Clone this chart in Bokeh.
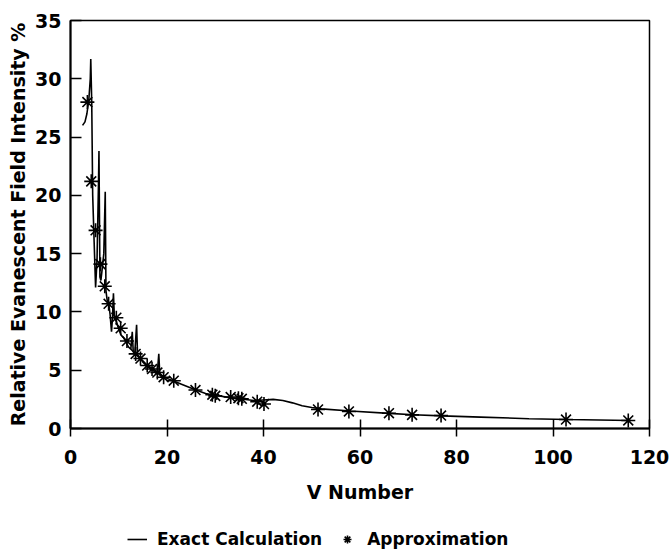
from bokeh.plotting import figure
from bokeh.layouts import column
from bokeh.models import Legend, LegendItem, FixedTicker, Range1d
from bokeh.embed import file_html
from bokeh.resources import INLINE

# Exact calculation curve
exact_x = [2.5, 3.0, 3.4, 3.8, 4.1, 4.2, 4.4, 4.6, 4.9, 5.2,
           5.5, 5.8, 5.9, 6.1, 6.3, 6.6, 6.9, 7.2, 7.35, 7.6,
           7.9, 8.2, 8.5, 8.7, 8.9, 9.1, 9.5, 10.0, 10.5, 11.0,
           11.5, 12.0, 12.5, 12.8, 13.0, 13.3, 13.7, 13.9, 14.5, 15.0,
           15.5, 16.0, 16.5, 17.0, 17.5, 18.0, 18.3, 18.5, 19.0, 20.0,
           21.5, 23.0, 26.0, 28.0, 30.0, 33.0, 35.0, 38.0, 40.0, 42.0,
           44.0, 46.0, 48.0, 50.0, 52.0, 58.0, 66.0, 71.0, 77.0, 85.0,
           95.0, 103.0, 116.0]
exact_y = [26.0, 26.3, 27.0, 28.2, 30.0, 31.7, 28.0, 20.0, 16.0, 12.1,
           14.5, 21.0, 23.8, 13.0, 12.7, 13.8, 15.0, 20.3, 11.8, 11.0,
           10.8, 9.8, 8.3, 9.5, 11.6, 9.5, 9.2, 8.5, 8.0, 7.8,
           7.4, 7.0, 6.8, 8.3, 6.6, 6.3, 8.9, 6.3, 6.0, 5.7,
           5.5, 5.3, 5.2, 5.0, 4.9, 4.8, 6.4, 4.7, 4.5, 4.3,
           4.05, 3.8, 3.3, 3.0, 2.85, 2.65, 2.55, 2.4, 2.45, 2.5,
           2.4, 2.2, 1.95, 1.8, 1.68, 1.5, 1.3, 1.18, 1.08, 0.98,
           0.84, 0.77, 0.69]

# Approximation points
approx_x = [3.5, 4.3, 5.2, 6.2, 7.1, 7.9, 9.5, 10.4, 11.7, 13.5,
            14.5, 15.9, 16.9, 18.0, 19.3, 21.4, 25.9, 29.4, 30.0, 33.2,
            34.8, 35.5, 38.7, 40.1, 51.3, 57.7, 66.0, 70.8, 76.8, 102.7,
            115.6]
approx_y = [28.0, 21.2, 17.0, 14.1, 12.2, 10.7, 9.5, 8.6, 7.5, 6.4,
            6.0, 5.4, 5.1, 4.8, 4.4, 4.1, 3.3, 2.9, 2.8, 2.7,
            2.6, 2.55, 2.3, 2.1, 1.63, 1.46, 1.31, 1.17, 1.11, 0.77,
            0.69]

x_ticks = [0, 20, 40, 60, 80, 100, 120]
y_ticks = [0, 5, 10, 15, 20, 25, 30, 35]
series_names = ["Exact Calculation", "Approximation"]

FONT = "DejaVu Sans"

p = figure(width=672, height=524,
           x_range=Range1d(0, 120), y_range=Range1d(0, 35),
           output_backend="svg", toolbar_location=None,
           min_border_left=70, min_border_right=23,
           min_border_top=20, min_border_bottom=96)
p.grid.visible = False
p.outline_line_color = "black"
p.outline_line_width = 1.5
p.background_fill_color = "white"
p.border_fill_color = "white"

line_r = p.line(exact_x, exact_y, line_color="black", line_width=1.6)
star_r = p.scatter(approx_x, approx_y, marker="asterisk", size=14,
                   line_color="black", line_width=1.6)

xa = p.xaxis[0]
xa.ticker = FixedTicker(ticks=x_ticks)
xa.axis_label = "V Number"
xa.major_tick_in = 9
xa.major_tick_out = 8
xa.minor_tick_in = 0
xa.minor_tick_out = 0
xa.major_label_standoff = 13
xa.axis_label_standoff = 14

ya = p.yaxis[0]
ya.ticker = FixedTicker(ticks=y_ticks)
ya.axis_label = "Relative Evanescent Field Intensity %"
ya.major_tick_in = 11
ya.major_tick_out = 0
ya.minor_tick_in = 0
ya.minor_tick_out = 0
ya.major_label_standoff = 9
ya.axis_label_standoff = 3
ya.major_label_orientation = "horizontal"

for ax in (xa, ya):
    ax.axis_line_color = "black"
    ax.axis_line_width = 2
    ax.major_tick_line_color = "black"
    ax.major_tick_line_width = 1.5
    ax.major_label_text_font = FONT
    ax.major_label_text_font_style = "bold"
    ax.major_label_text_font_size = "19px"
    ax.major_label_text_color = "black"
    ax.axis_label_text_font = FONT
    ax.axis_label_text_font_style = "bold"
    ax.axis_label_text_font_size = "19px"
    ax.axis_label_text_color = "black"

# Legend strip below the chart (series drawn outside its visible range,
# only the legend swatches show)
lg = figure(width=672, height=30,
            x_range=Range1d(-20, -10), y_range=Range1d(-20, -10),
            x_axis_location=None, y_axis_location=None,
            output_backend="svg", toolbar_location=None,
            min_border=0, min_border_left=0, min_border_right=0,
            min_border_top=0, min_border_bottom=0)
lg.grid.visible = False
lg.outline_line_color = None
lg.background_fill_color = "white"
lg.border_fill_color = "white"
lg_line = lg.line(exact_x, exact_y, line_color="black", line_width=1.6)
lg_star = lg.scatter(approx_x, approx_y, marker="asterisk", size=14,
                     line_color="black", line_width=1.6)

legend = Legend(items=[LegendItem(label=series_names[0], renderers=[lg_line]),
                       LegendItem(label=series_names[1], renderers=[lg_star])],
                orientation="horizontal", location=(57, 5),
                border_line_color=None, background_fill_alpha=0,
                label_text_font=FONT, label_text_font_style="bold",
                label_text_font_size="17px", label_text_color="black",
                glyph_width=20, glyph_height=20, spacing=15,
                label_standoff=10, padding=0, margin=0)
lg.add_layout(legend, "center")

layout = column(p, lg, spacing=0)
open("out.html", "w").write(file_html(layout, INLINE))
